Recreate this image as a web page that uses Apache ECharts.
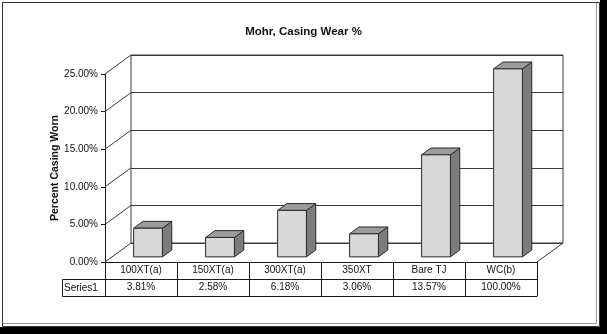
<!DOCTYPE html>
<html><head><meta charset="utf-8">
<script src="https://cdn.jsdelivr.net/npm/echarts@6/dist/echarts.min.js"></script>
<style>html,body{margin:0;padding:0;background:#fff}#c{width:607px;height:334px}</style>
</head><body><div id="c"></div>
<script>
// ---- data ----
const categories = ['100XT(a)', '150XT(a)', '300XT(a)', '350XT', 'Bare TJ', 'WC(b)'];
const seriesName = 'Series1';
const values = [3.81, 2.58, 6.18, 3.06, 13.57, 100.00];
const yTicks = [0, 5, 10, 15, 20, 25];
const titleText = 'Mohr, Casing Wear %';
const yAxisTitle = 'Percent Casing Worn';

// ---- layout / style ----
const Y_MIN = yTicks[0], Y_MAX = yTicks[yTicks.length - 1], Y_STEP = yTicks[1] - yTicks[0];
const FRONT = { left: 105, top: 74, width: 432, height: 188 };
const DX = 26, DY = -19;
const BACK = { left: FRONT.left + DX, top: FRONT.top + DY, width: FRONT.width, height: FRONT.height };
const F1 = 0.27, F2 = 0.63, BARW = 0.4;
const FONT = '"Liberation Sans", Arial, sans-serif';
const INK = '#1a1a1a';
const GRIDC = '#3a3a3a';
const pct = v => v.toFixed(2) + '%';

const chart = echarts.init(document.getElementById('c'), null, { renderer: 'canvas' });

function wallsItem(params, api) {
  const bw = api.size([1, 0])[0];
  const children = [];
  yTicks.forEach(t => {
    const p = api.coord([0, t]);
    const x = p[0] - bw / 2;
    children.push({ type: 'line', shape: { x1: x, y1: p[1], x2: x + DX, y2: p[1] + DY },
      style: { stroke: GRIDC, lineWidth: 1 } });
  });
  const q = api.coord([categories.length - 1, Y_MIN]);
  const xr = q[0] + bw / 2;
  children.push({ type: 'line', shape: { x1: xr, y1: q[1], x2: xr + DX, y2: q[1] + DY },
    style: { stroke: GRIDC, lineWidth: 1 } });
  return { type: 'group', children };
}

function barItem(params, api) {
  const i = api.value(0);
  const v = Math.min(Math.max(api.value(1), Y_MIN), Y_MAX);
  const base = api.coord([i, Y_MIN]);
  const top = api.coord([i, v]);
  const bw = api.size([1, 0])[0] * BARW;
  const x0 = base[0] - bw / 2 + F1 * DX;
  const yb = base[1] + F1 * DY;
  const yt = top[1] + F1 * DY;
  const ddx = (F2 - F1) * DX, ddy = (F2 - F1) * DY;
  const st = { stroke: '#2a2a2a', lineWidth: 1, lineJoin: 'round' };
  return { type: 'group', children: [
    { type: 'polygon', shape: { points: [[x0 + bw, yt], [x0 + bw + ddx, yt + ddy], [x0 + bw + ddx, yb + ddy], [x0 + bw, yb]] },
      style: Object.assign({ fill: '#7d7d7d' }, st) },
    { type: 'polygon', shape: { points: [[x0, yt], [x0 + bw, yt], [x0 + bw + ddx, yt + ddy], [x0 + ddx, yt + ddy]] },
      style: Object.assign({ fill: '#9c9c9c' }, st) },
    { type: 'rect', shape: { x: x0, y: yt, width: bw, height: yb - yt },
      style: Object.assign({ fill: '#d8d8d8' }, st) }
  ] };
}

const option = {
  backgroundColor: '#ffffff',
  animation: false,
  title: { text: titleText, left: 'center', top: 21,
    textStyle: { fontFamily: FONT, fontSize: 11.5, fontWeight: 'bold', color: '#111' } },
  grid: [
    Object.assign({ containLabel: false }, FRONT),
    Object.assign({ containLabel: false, show: true, borderColor: GRIDC, borderWidth: 1, backgroundColor: '#fff' }, BACK)
  ],
  xAxis: [
    { type: 'category', gridIndex: 0, data: categories, position: 'bottom', boundaryGap: true,
      axisLine: { show: true, lineStyle: { color: INK, width: 1 } },
      axisTick: { show: true, alignWithLabel: false, interval: 0, length: 34, inside: false, lineStyle: { color: INK } },
      axisLabel: { interval: 0, margin: 3, color: '#111', fontFamily: FONT, fontSize: 10 },
      splitLine: { show: false } },
    { type: 'category', gridIndex: 0, data: values.map(pct), position: 'bottom', offset: 17,
      axisLine: { show: true, lineStyle: { color: INK, width: 1 } },
      axisTick: { show: false },
      axisLabel: { interval: 0, margin: 3, color: '#111', fontFamily: FONT, fontSize: 10 } },
    { type: 'category', gridIndex: 0, data: categories, position: 'bottom', offset: 34,
      axisLine: { show: true, lineStyle: { color: INK, width: 1 } },
      axisTick: { show: false }, axisLabel: { show: false } },
    { type: 'category', gridIndex: 1, data: categories, show: false }
  ],
  yAxis: [
    { type: 'value', gridIndex: 0, min: Y_MIN, max: Y_MAX, interval: Y_STEP,
      name: yAxisTitle, nameLocation: 'middle', nameGap: 44, nameRotate: 90, nameMoveOverlap: false,
      nameTextStyle: { fontFamily: FONT, fontSize: 10.5, fontWeight: 'bold', color: '#111' },
      axisLine: { show: true, lineStyle: { color: INK, width: 1 } },
      axisTick: { show: true, length: 4, lineStyle: { color: INK } },
      axisLabel: { formatter: pct, margin: 7, color: '#111', fontFamily: FONT, fontSize: 10 },
      splitLine: { show: false } },
    { type: 'value', gridIndex: 1, min: Y_MIN, max: Y_MAX, interval: Y_STEP,
      axisLine: { show: false }, axisTick: { show: false }, axisLabel: { show: false },
      splitLine: { show: true, lineStyle: { color: GRIDC, width: 1 } } }
  ],
  series: [
    { type: 'custom', name: 'walls', xAxisIndex: 0, yAxisIndex: 0, data: [[0, 0]],
      renderItem: wallsItem, silent: true, z: 1 },
    { type: 'custom', name: seriesName, xAxisIndex: 0, yAxisIndex: 0,
      data: values.map((v, i) => [i, v]), encode: { x: 0, y: 1 },
      renderItem: barItem, z: 3 }
  ],
  graphic: [
    { type: 'rect', z: 100, shape: { x: 600, y: 0, width: 7, height: 334 }, style: { fill: '#000' } },
    { type: 'rect', z: 100, shape: { x: 0, y: 327, width: 607, height: 7 }, style: { fill: '#000' } },
    { type: 'rect', z: 100, shape: { x: 2.5, y: 2.5, width: 597, height: 324 }, style: { fill: 'none', stroke: '#333', lineWidth: 1 } },
    { type: 'line', z: 100, shape: { x1: 596.5, y1: 3, x2: 596.5, y2: 323.5 }, style: { stroke: '#9a9a9a', lineWidth: 1 } },
    { type: 'line', z: 100, shape: { x1: 3, y1: 323.5, x2: 596.5, y2: 323.5 }, style: { stroke: '#9a9a9a', lineWidth: 1 } },
    { type: 'line', z: 100, shape: { x1: 62.5, y1: 279.5, x2: 105, y2: 279.5 }, style: { stroke: INK, lineWidth: 1 } },
    { type: 'line', z: 100, shape: { x1: 62.5, y1: 296.5, x2: 105, y2: 296.5 }, style: { stroke: INK, lineWidth: 1 } },
    { type: 'line', z: 100, shape: { x1: 62.5, y1: 279.5, x2: 62.5, y2: 296.5 }, style: { stroke: INK, lineWidth: 1 } },
    { type: 'text', z: 100, style: { text: seriesName, x: 64, y: 288, textVerticalAlign: 'middle',
      font: '10px ' + FONT, fill: '#111' } }
  ]
};
chart.setOption(option);
</script>
</body></html>
